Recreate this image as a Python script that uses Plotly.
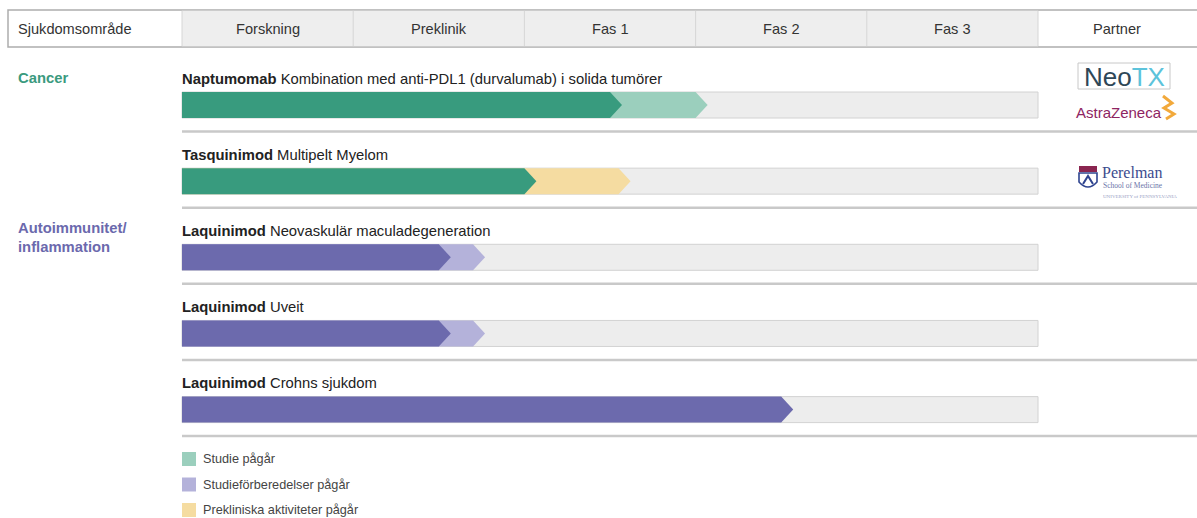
import plotly.graph_objects as go

# ---------------- data ----------------
phases = ["Forskning", "Preklinik", "Fas 1", "Fas 2", "Fas 3"]
drugs = ["Naptumomab", "Tasquinimod", "Laquinimod", "Laquinimod", "Laquinimod"]
indications = ["Kombination med anti-PDL1 (durvalumab) i solida tumörer",
               "Multipelt Myelom",
               "Neovaskulär maculadegeneration",
               "Uveit",
               "Crohns sjukdom"]
areas = ["Cancer", "Cancer", "Autoimmunitet", "Autoimmunitet", "Autoimmunitet"]
# progress in phase units (0 = start of Forskning, 5 = end of Fas 3)
completed = [2.5, 2.0, 1.5, 1.5, 3.5]
ongoing = [3.0, 2.55, 1.7, 1.7, 0.0]
ongoing_status = ["Studie pågår", "Prekliniska aktiviteter pågår",
                  "Studieförberedelser pågår", "Studieförberedelser pågår", None]
legend_items = ["Studie pågår", "Studieförberedelser pågår", "Prekliniska aktiviteter pågår"]
area_labels = ["Cancer", "Autoimmunitet/<br>inflammation"]

# ---------------- styles ----------------
W_PX, H_PX = 1197, 518
X0_PX, X5_PX = 182, 1038
COL = (X5_PX - X0_PX) / 5.0
FONT = "Liberation Sans, Arial, sans-serif"
dark = {"Cancer": "#389B7E", "Autoimmunitet": "#6C6AAD"}
status_color = {"Studie pågår": "#9BCFBD",
                "Studieförberedelser pågår": "#B4B2DA",
                "Prekliniska aktiviteter pågår": "#F5DCA1"}
area_color = {"Cancer": "#3A9A7E", "Autoimmunitet/<br>inflammation": "#6B69AD"}

ROW0_TOP, ROW_STEP, BAR_H = 92.0, 76.15, 26.0
TIP = 12.0 / COL


def dx(px):
    return (px - X0_PX) / COL


def arrow(end, top):
    bot = top + BAR_H
    mid = top + BAR_H / 2
    return [0, end, end + TIP, end, 0, 0], [top, top, mid, bot, bot, top]


fig = go.Figure()
shapes = []
annotations = []

# header
HT, HB = 10, 47
shapes.append(dict(type="rect", xref="x", yref="y", x0=dx(8), x1=dx(1200), y0=HT, y1=HB,
                   fillcolor="white", line=dict(color="#ADADAD", width=1.5), layer="below"))
shapes.append(dict(type="rect", xref="x", yref="y", x0=0, x1=5, y0=HT + 0.8, y1=HB - 0.8,
                   fillcolor="#EEEEEE", line=dict(width=0), layer="below"))
for i in range(6):
    shapes.append(dict(type="line", xref="x", yref="y", x0=i, x1=i, y0=HT + 0.8, y1=HB - 0.8,
                       line=dict(color="#D6D6D6", width=1)))
for i, p in enumerate(phases):
    annotations.append(dict(x=i + 0.5, y=(HT + HB) / 2, xref="x", yref="y", text=p,
                            showarrow=False, font=dict(family=FONT, size=14.6, color="#333333")))
annotations.append(dict(x=dx(18), y=(HT + HB) / 2, xref="x", yref="y", text="Sjukdomsområde",
                        showarrow=False, xanchor="left", xshift=-2,
                        font=dict(family=FONT, size=14.6, color="#333333")))
annotations.append(dict(x=dx(1117), y=(HT + HB) / 2, xref="x", yref="y", text="Partner",
                        showarrow=False, font=dict(family=FONT, size=14.6, color="#333333")))

# rows
for i in range(len(drugs)):
    top = ROW0_TOP + i * ROW_STEP
    bot = top + BAR_H
    shapes.append(dict(type="rect", xref="x", yref="y", x0=0, x1=5, y0=top, y1=bot,
                       fillcolor="#EDEDED", line=dict(color="#D2D2D2", width=1), layer="below"))
    shapes.append(dict(type="line", xref="x", yref="y", x0=0, x1=dx(1200), y0=bot + 13.5,
                       y1=bot + 13.5, line=dict(color="#C9C9C9", width=2.5)))
    if ongoing[i] > 0 and ongoing_status[i]:
        xs, ys = arrow(ongoing[i], top)
        fig.add_trace(go.Scatter(x=xs, y=ys, fill="toself", mode="lines",
                                 fillcolor=status_color[ongoing_status[i]],
                                 line=dict(width=0), hoverinfo="skip", showlegend=False))
    xs, ys = arrow(completed[i], top)
    fig.add_trace(go.Scatter(x=xs, y=ys, fill="toself", mode="lines",
                             fillcolor=dark[areas[i]],
                             line=dict(width=0), hoverinfo="skip", showlegend=False))
    annotations.append(dict(x=0, y=top - 13.5, xref="x", yref="y",
                            text=f"<b>{drugs[i]}</b> {indications[i]}",
                            showarrow=False, xanchor="left", xshift=-2,
                            font=dict(family=FONT, size=14.8, color="#222222")))

# area labels
annotations.append(dict(x=dx(18), y=78, xref="x", yref="y", text=f"<b>{area_labels[0]}</b>",
                        showarrow=False, xanchor="left", xshift=-2,
                        font=dict(family=FONT, size=14.8, color=area_color[area_labels[0]])))
annotations.append(dict(x=dx(18), y=237, xref="x", yref="y", text=f"<b>{area_labels[1]}</b>",
                        showarrow=False, xanchor="left", align="left", xshift=-2,
                        font=dict(family=FONT, size=14.8, color=area_color[area_labels[1]])))

# legend
for k, lab in enumerate(legend_items):
    yc = 459 + k * 25.5
    shapes.append(dict(type="rect", xref="x", yref="y", x0=dx(182), x1=dx(196),
                       y0=yc - 7, y1=yc + 7, fillcolor=status_color[lab], line=dict(width=0)))
    annotations.append(dict(x=dx(203), y=yc, xref="x", yref="y", text=lab, showarrow=False,
                            xanchor="left", xshift=-2,
                            font=dict(family=FONT, size=12.7, color="#444444")))

# partner logos (approximate)
shapes.append(dict(type="rect", xref="x", yref="y", x0=dx(1078), x1=dx(1170), y0=63, y1=89,
                   fillcolor="white", line=dict(color="#C8C8C8", width=1)))
annotations.append(dict(x=dx(1124), y=76.5, xref="x", yref="y",
                        text="<span style='color:#2E4757'>Neo</span><span style='color:#5CC3DB'>TX</span>",
                        showarrow=False, font=dict(family=FONT, size=26)))
annotations.append(dict(x=dx(1074), y=112, xref="x", yref="y", text="AstraZeneca",
                        showarrow=False, xanchor="left",
                        font=dict(family="Liberation Sans Narrow, Liberation Sans, sans-serif",
                                  size=15, color="#8E2462")))
shapes.append(dict(type="path", xref="x", yref="y",
                   path=f"M {dx(1163)},{96} L {dx(1172)},{103} L {dx(1164)},{108} L {dx(1174)},{114} L {dx(1166)},{119}",
                   line=dict(color="#F2A93B", width=3)))
# Perelman
shapes.append(dict(type="rect", xref="x", yref="y", x0=dx(1079), x1=dx(1097), y0=166, y1=172,
                   fillcolor="#8A2550", line=dict(width=0)))
shapes.append(dict(type="path", xref="x", yref="y",
                   path=f"M {dx(1079)},173 L {dx(1097)},173 L {dx(1097)},182 Q {dx(1088)},192 {dx(1079)},182 Z",
                   fillcolor="white", line=dict(color="#2F448F", width=1.6)))
shapes.append(dict(type="path", xref="x", yref="y",
                   path=f"M {dx(1083)},184 L {dx(1088)},176 L {dx(1093)},184",
                   line=dict(color="#2F448F", width=2)))
annotations.append(dict(x=dx(1100), y=172.5, xref="x", yref="y", text="Perelman",
                        showarrow=False, xanchor="left",
                        font=dict(family="Liberation Serif, serif", size=16, color="#3B4B8E")))
annotations.append(dict(x=dx(1101), y=189.5, xref="x", yref="y",
                        text="School of Medicine<br><span style='font-size:5px;color:#9AA0C4'>UNIVERSITY of PENNSYLVANIA</span>",
                        showarrow=False, xanchor="left", align="left",
                        font=dict(family="Liberation Serif, serif", size=7.5, color="#6A74A8")))

fig.update_layout(
    width=W_PX, height=H_PX,
    margin=dict(l=0, r=0, t=0, b=0),
    paper_bgcolor="white", plot_bgcolor="white",
    xaxis=dict(range=[dx(0), dx(W_PX)], visible=False, fixedrange=True),
    yaxis=dict(range=[H_PX, 0], visible=False, fixedrange=True),
    shapes=shapes, annotations=annotations, showlegend=False,
)

fig.write_html("out.html")
